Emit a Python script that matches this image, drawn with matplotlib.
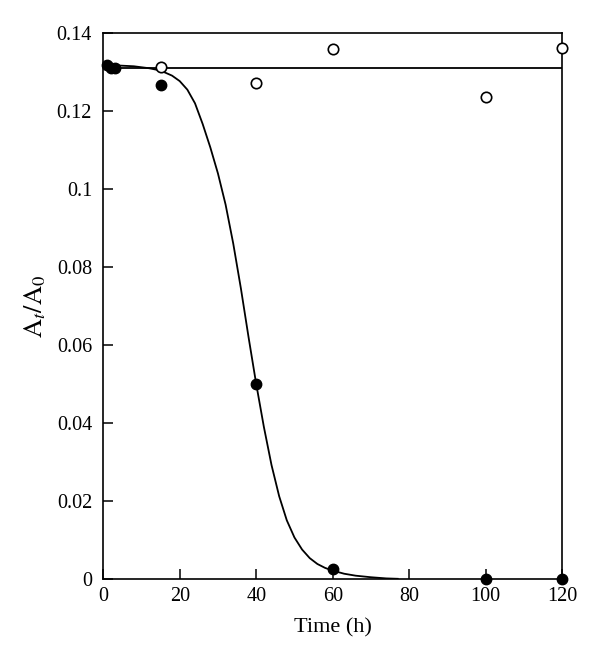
import matplotlib
matplotlib.use('Agg')
import matplotlib.pyplot as plt

plt.rcParams['font.family'] = ['Liberation Serif', 'DejaVu Serif']
plt.rcParams['mathtext.fontset'] = 'stix'

# filled circles (decaying sample)
t_filled = [1, 2, 3, 15, 40, 60, 100, 120]
a_filled = [0.1318, 0.1310, 0.1310, 0.1268, 0.0500, 0.0025, 0.0, 0.0]

# open circles (control)
t_open = [15, 40, 60, 100, 120]
a_open = [0.1312, 0.1271, 0.1359, 0.1235, 0.1363]

# fitted curve
t_fit = [0, 4, 8, 12, 15, 18, 20, 22, 24, 26, 28, 30, 32, 34, 36, 38, 40,
         42, 44, 46, 48, 50, 52, 54, 56, 58, 60, 63, 66, 70, 74, 77]
a_fit = [0.1318, 0.1317, 0.1315, 0.1310, 0.1304, 0.1291, 0.1277, 0.1255,
         0.1220, 0.1167, 0.1107, 0.1040, 0.0960, 0.0860, 0.0745, 0.0620,
         0.0500, 0.0390, 0.0292, 0.0212, 0.0150, 0.0106, 0.0075, 0.0053,
         0.0038, 0.0028, 0.0021, 0.0013, 0.0008, 0.0004, 0.0001, 0.0]

# horizontal fit for the control
t_flat = [0, 120]
a_flat = [0.1310, 0.1310]

xticks = [0, 20, 40, 60, 80, 100, 120]
yticks = [0, 0.02, 0.04, 0.06, 0.08, 0.1, 0.12, 0.14]
ytick_labels = ['0', '0.02', '0.04', '0.06', '0.08', '0.1', '0.12', '0.14']

fig = plt.figure(figsize=(6, 6.63), dpi=100)
ax = fig.add_axes([0.172, 0.127, 0.765, 0.823])

ax.plot(t_fit, a_fit, color='black', lw=1.3)
ax.plot(t_flat, a_flat, color='black', lw=1.3)
ax.plot(t_open, a_open, 'o', ms=7.5, mfc='white', mec='black', mew=1.2, clip_on=False, zorder=3)
ax.plot(t_filled, a_filled, 'o', ms=7.5, mfc='black', mec='black', clip_on=False, zorder=4)

ax.set_xlim(0, 120)
ax.set_ylim(0, 0.14)
ax.set_xticks(xticks)
ax.set_yticks(yticks)
ax.set_yticklabels(ytick_labels)
ax.tick_params(direction='in', length=7, width=1.1, labelsize=14.5, top=False, right=False)
ax.tick_params(axis='x', pad=6)
ax.tick_params(axis='y', pad=8)
for s in ax.spines.values():
    s.set_linewidth(1.2)

ax.set_xlabel('Time (h)', fontsize=16, labelpad=9)
ax.set_ylabel(r'$\mathrm{A}_t/\mathrm{A}_0$', fontsize=19, labelpad=6)

fig.savefig('out.png', dpi=100)
